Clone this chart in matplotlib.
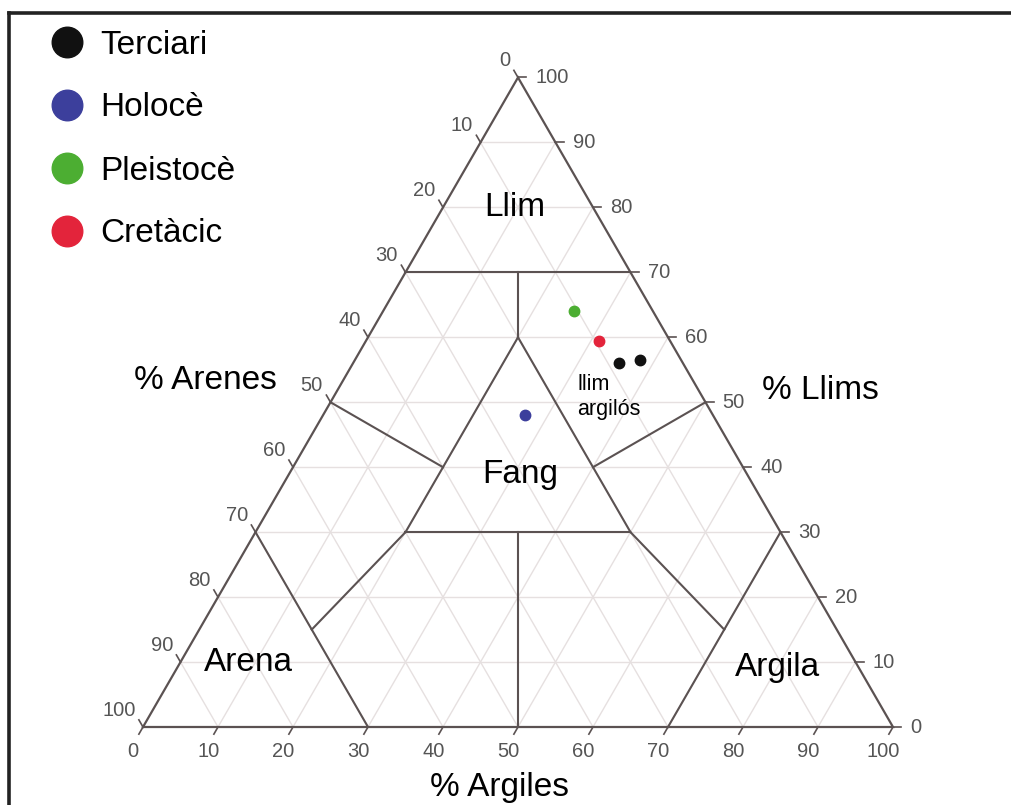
import numpy as np
import matplotlib.pyplot as plt

# Samples as (% argiles, % llims); sand is the remainder
series_names = ["Terciari", "Holocè", "Pleistocè", "Cretàcic"]
series_colors = ["#111111", "#3c3f9c", "#4cae32", "#e3243b"]
clay_values = [[35.5, 38.0], [27.0], [25.5], [31.0]]
silt_values = [[56.0, 56.5], [48.0], [64.0], [59.5]]

tick_values = list(range(0, 101, 10))

# Textural class boundaries, each segment as ((clay, silt), (clay, silt))
boundaries = [
    ((0, 70), (30, 70)),
    ((15, 70), (20, 60)),
    ((20, 30), (50, 30)),
    ((50, 30), (20, 60)),
    ((20, 60), (20, 30)),
    ((35, 30), (50, 0)),
    ((0, 50), (20, 40)),
    ((40, 40), (50, 50)),
    ((0, 30), (30, 0)),
    ((70, 0), (70, 30)),
    ((20, 30), (15, 15)),
    ((50, 30), (70, 15)),
]

# Class names placed at (clay, silt)
class_names = ["Llim", "Fang", "Arena", "Argila"]
class_pos = [(9.6, 80.0), (30.9, 38.8), (9.1, 10.0), (80.1, 9.1)]

H = np.sqrt(3) / 2
LINE = "#5b5252"
GRID = "#e6e0e0"
TICK_TXT = "#555555"


def tern(c, s):
    c = np.asarray(c, dtype=float)
    s = np.asarray(s, dtype=float)
    return c + s / 2, s * H


plt.rcParams["font.family"] = ["Liberation Sans", "DejaVu Sans"]

fig = plt.figure(figsize=(10.12, 8.05), dpi=100)
ax = fig.add_axes([0, 0, 1, 1])
scale = 7.5  # px per unit
ax.set_xlim(-143 / scale, (1012 - 143) / scale)
ax.set_ylim(-(805 - 727) / scale, 727 / scale)
ax.axis("off")

# light grid every 10 %
for v in tick_values[1:-1]:
    for p0, p1 in (((0, v), (100 - v, v)),
                   ((v, 0), (v, 100 - v)),
                   ((100 - v, 0), (0, 100 - v))):
        x, y = tern([p0[0], p1[0]], [p0[1], p1[1]])
        ax.plot(x, y, color=GRID, lw=1.0, zorder=1)

# outline
x, y = tern([0, 100, 0, 0], [0, 0, 100, 0])
ax.plot(x, y, color=LINE, lw=1.6, zorder=3, solid_joinstyle="miter")

# class boundaries
for p0, p1 in boundaries:
    x, y = tern([p0[0], p1[0]], [p0[1], p1[1]])
    ax.plot(x, y, color=LINE, lw=1.5, zorder=3)

# ticks and tick labels
tl = 1.1
for v in tick_values:
    # bottom: % argiles
    x0, y0 = tern(v, 0)
    ax.plot([x0, x0 - 0.5 * tl], [y0, y0 - H * tl], color=LINE, lw=1.2, zorder=3)
    ax.text(x0 - 1.3, y0 - 3.3, str(v), ha="center", va="center",
            fontsize=14.5, color=TICK_TXT)
    # right: % llims
    x0, y0 = tern(100 - v, v)
    ax.plot([x0, x0 + tl], [y0, y0], color=LINE, lw=1.2, zorder=3)
    ax.text(x0 + 2.3, y0, str(v), ha="left", va="center",
            fontsize=14.5, color=TICK_TXT)
    # left: % arenes
    x0, y0 = tern(0, 100 - v)
    ax.plot([x0, x0 - 0.5 * tl], [y0, y0 + H * tl], color=LINE, lw=1.2, zorder=3)
    ax.text(x0 - 1.0, y0 + 2.2, str(v), ha="right", va="center",
            fontsize=14.5, color=TICK_TXT)

# class labels
for name, (c, s) in zip(class_names, class_pos):
    x0, y0 = tern(c, s)
    ax.text(x0, y0, name, ha="center", va="center", fontsize=24, zorder=4)
x0, y0 = tern(32.5, 50.8)
ax.text(x0, y0, "llim\nargilós", ha="left", va="center", fontsize=15.5,
        linespacing=1.3, zorder=4)

# axis titles
ax.text(62 / scale, (727 - 380) / scale, "% Arenes", ha="center", va="center",
        fontsize=24)
ax.text((820 - 143) / scale, (727 - 390) / scale, "% Llims", ha="center",
        va="center", fontsize=24)
ax.text((499 - 143) / scale, (727 - 787) / scale, "% Argiles", ha="center",
        va="center", fontsize=24)

# samples
for name, col, cv, sv in zip(series_names, series_colors, clay_values, silt_values):
    x, y = tern(cv, sv)
    ax.plot(x, y, "o", color=col, markersize=7.5, zorder=6, ls="none")

# legend
for i, (name, col) in enumerate(zip(series_names, series_colors)):
    yy = 1 - (42 + i * 63) / 805
    fig.lines.append(plt.Line2D([67 / 1012], [yy], marker="o", color=col,
                                markersize=22, transform=fig.transFigure,
                                ls="none"))
    fig.text(100 / 1012, yy - 3 / 805, name, ha="left", va="center",
             fontsize=24)

# frame (top and left edges only)
fx, fy = 9 / 1012, 1 - 13 / 805
fig.lines.append(plt.Line2D([fx, 1.0], [fy, fy], color="#222222", lw=2.6,
                            transform=fig.transFigure))
fig.lines.append(plt.Line2D([fx, fx], [fy, 0.0], color="#222222", lw=2.6,
                            transform=fig.transFigure))

fig.savefig("out.png", dpi=100)
